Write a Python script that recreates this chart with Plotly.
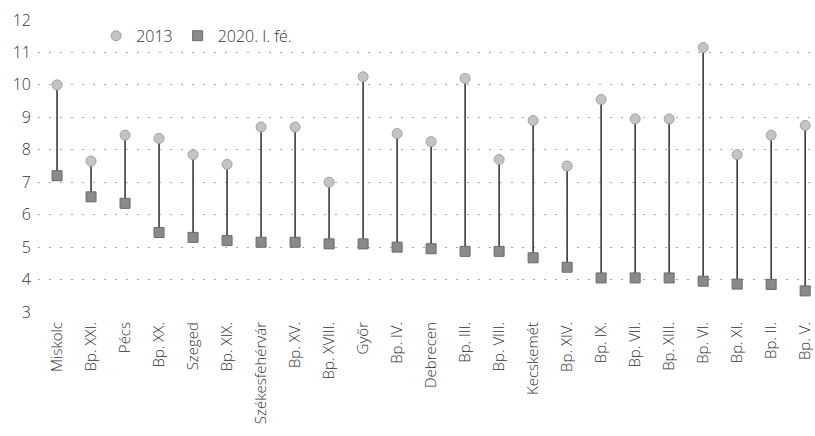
import plotly.graph_objects as go

categories = ["Miskolc", "Bp. XXI.", "Pécs", "Bp. XX.", "Szeged", "Bp. XIX.", "Székesfehérvár",
              "Bp. XV.", "Bp. XVIII.", "Győr", "Bp. IV.", "Debrecen", "Bp. III.", "Bp. VIII.",
              "Kecskemét", "Bp. XIV.", "Bp. IX.", "Bp. VII.", "Bp. XIII.", "Bp. VI.", "Bp. XI.",
              "Bp. II.", "Bp. V."]
v2013 = [10.0, 7.65, 8.45, 8.35, 7.85, 7.55, 8.7, 8.7, 7.0, 10.25, 8.5, 8.25, 10.2, 7.7,
         8.9, 7.5, 9.55, 8.95, 8.95, 11.15, 7.85, 8.45, 8.75]
v2020 = [7.2, 6.55, 6.35, 5.45, 5.3, 5.2, 5.15, 5.15, 5.1, 5.1, 5.0, 4.95, 4.87, 4.87,
         4.67, 4.38, 4.05, 4.05, 4.05, 3.95, 3.86, 3.85, 3.65]
series_names = ["2013", "2020. I. fé."]
y_ticks = [3, 4, 5, 6, 7, 8, 9, 10, 11, 12]

idx = list(range(len(categories)))
lx, ly = [], []
for i in idx:
    lx += [i, i, None]
    ly += [v2013[i], v2020[i], None]

fig = go.Figure()
fig.add_trace(go.Scatter(x=lx, y=ly, mode="lines", line=dict(color="#3a3a3a", width=1.6),
                         showlegend=False, hoverinfo="skip"))
fig.add_trace(go.Scatter(x=idx, y=v2013, mode="markers", name=series_names[0],
                         cliponaxis=False,
                         marker=dict(symbol="circle", size=10, color="#c4c4c4",
                                     line=dict(color="#a0a0a0", width=1))))
fig.add_trace(go.Scatter(x=idx, y=v2020, mode="markers", name=series_names[1],
                         cliponaxis=False,
                         marker=dict(symbol="square", size=10, color="#8a8a8a",
                                     line=dict(color="#6a6a6a", width=1))))

font = "Open Sans, Liberation Sans, sans-serif"
fig.update_layout(
    width=815, height=436,
    margin=dict(l=38, r=2, t=20, b=124),
    paper_bgcolor="white", plot_bgcolor="white",
    font=dict(family=font, color="#333333", size=14, weight=300),
    legend=dict(orientation="h", x=0.075, y=1.004, xanchor="left", yanchor="top",
                font=dict(size=16, color="#333333", weight=300), bgcolor="rgba(0,0,0,0)",
                itemwidth=30, tracegroupgap=0),
    xaxis=dict(range=[-0.56, 22.23], tickmode="array", tickvals=idx, ticktext=categories,
               tickangle=-90, showgrid=False, zeroline=False, showline=False,
               ticks="", automargin=False, ticklabelstandoff=6,
               tickfont=dict(size=15, color="#333333", weight=300)),
    yaxis=dict(range=[3, 12], tickmode="array", tickvals=y_ticks,
               ticktext=[str(t) for t in y_ticks], showgrid=True,
               gridcolor="#a8a8a8", griddash="2px,9px", gridwidth=1, zeroline=False,
               showline=False, ticks="", ticklabelstandoff=6, automargin=False,
               tickfont=dict(size=16, color="#333333", weight=300)),
)
fig.write_html("out.html", config={"displayModeBar": False},
               post_script="document.body.style.margin='0';document.body.style.overflow='hidden';")
